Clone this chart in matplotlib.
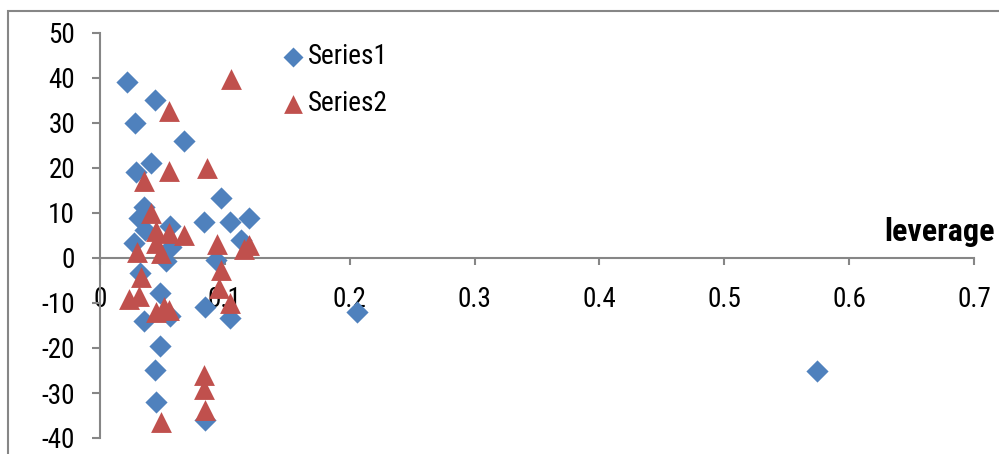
import os
import matplotlib
matplotlib.use("Agg")
import matplotlib.pyplot as plt
from matplotlib import font_manager
from matplotlib.font_manager import FontProperties
from matplotlib.patches import Rectangle

plt.rcParams["axes.unicode_minus"] = False

# pick a narrow sans if one is installed
files = {os.path.basename(f.fname).lower(): f.fname for f in font_manager.fontManager.ttflist}
choices = [
    ("liberationsansnarrow-regular.ttf", "liberationsansnarrow-bold.ttf", 20, 23),
    ("robotocondensed-regular.ttf", "robotocondensed-bold.ttf", 19.5, 23),
    ("dejavusanscondensed.ttf", "dejavusanscondensed-bold.ttf", 18, 21),
]
REG = BOLD = None
for r, b, fs, bfs in choices:
    if r in files:
        REG = FontProperties(fname=files[r], size=fs)
        BOLD = FontProperties(fname=files.get(b, files[r]), size=bfs, weight="bold")
        break
if REG is None:
    REG = FontProperties(family="Liberation Sans", size=17.5)
    BOLD = FontProperties(family="Liberation Sans", size=19, weight="bold")

# Series1 (blue diamonds)
s1_x = [0.022, 0.044, 0.028, 0.067, 0.041, 0.029, 0.035, 0.031, 0.036, 0.027,
        0.056, 0.057, 0.097, 0.083, 0.104, 0.119, 0.113, 0.093, 0.053, 0.032,
        0.048, 0.056, 0.035, 0.084, 0.104, 0.048, 0.044, 0.045, 0.084, 0.206,
        0.574]
s1_y = [39.0, 35.1, 30.1, 26.1, 21.2, 19.0, 11.4, 8.8, 6.2, 3.3,
        7.0, 2.5, 13.3, 8.1, 8.1, 8.8, 4.0, -0.4, -0.6, -3.4,
        -7.7, -12.8, -13.9, -10.8, -13.4, -19.6, -24.9, -31.9, -36.0, -12.0,
        -25.1]

# Series2 (red triangles)
s2_x = [0.105, 0.055, 0.035, 0.055, 0.086, 0.041, 0.045, 0.055, 0.067, 0.045,
        0.030, 0.049, 0.094, 0.115, 0.119, 0.033, 0.097, 0.095, 0.031, 0.023,
        0.051, 0.055, 0.045, 0.104, 0.083, 0.083, 0.084, 0.049]
s2_y = [39.8, 32.6, 17.0, 19.3, 20.0, 10.0, 5.9, 5.5, 5.1, 3.4,
        1.4, 1.0, 3.1, 2.1, 2.9, -4.3, -2.7, -6.7, -8.5, -9.1,
        -10.8, -11.5, -12.0, -10.1, -26.0, -29.0, -33.8, -36.4]

x_ticks = [0, 0.1, 0.2, 0.3, 0.4, 0.5, 0.6, 0.7]
x_labels = ["0", "0.1", "0.2", "0.3", "0.4", "0.5", "0.6", "0.7"]
y_ticks = [-40, -30, -20, -10, 0, 10, 20, 30, 40, 50]
y_labels = ["-40", "-30", "-20", "-10", "0", "10", "20", "30", "40", "50"]

W, H = 999, 454
fig = plt.figure(figsize=(W / 100, H / 100), dpi=100)
ax = fig.add_axes([100 / W, 1 - 438 / H, (974 - 100) / W, (438 - 33) / H])

grey = "#868686"
for s in ["top", "right"]:
    ax.spines[s].set_visible(False)
ax.spines["bottom"].set_position(("data", 0))
for s in ["left", "bottom"]:
    ax.spines[s].set_color(grey)
    ax.spines[s].set_linewidth(1.5)

ax.scatter(s1_x, s1_y, marker="D", s=11.3 ** 2, color="#4F81BD", label="Series1",
           linewidths=0, zorder=3, clip_on=False)
ax.scatter(s2_x, s2_y, marker="^", s=15 ** 2, color="#C0504D", label="Series2",
           linewidths=0, zorder=4, clip_on=False)

ax.set_xlim(0, 0.7)
ax.set_ylim(-40, 50)
ax.set_xticks(x_ticks)
ax.set_xticklabels(x_labels, fontproperties=REG)
ax.set_yticks(y_ticks)
ax.set_yticklabels(y_labels, fontproperties=REG)

ax.tick_params(axis="x", direction="out", length=5, width=1.5, color=grey,
               pad=15, labelcolor="black")
ax.tick_params(axis="y", direction="out", length=6, width=1.5, color=grey,
               pad=12, labelcolor="black")

fig.text(995 / W, 1 - 232 / H, "leverage", ha="right", va="center",
         fontproperties=BOLD)

ax.legend(loc="upper left", bbox_to_anchor=(285 / W, 1 - 43 / H),
          bbox_transform=fig.transFigure, frameon=False, prop=REG,
          handlelength=0.6, handletextpad=0.25, labelspacing=0.75,
          borderpad=0, borderaxespad=0, scatterpoints=1, markerscale=0.9)

fig.patches.append(Rectangle((8 / W, -0.1), 2, 1 - 11 / H + 0.1, transform=fig.transFigure,
                             fill=False, edgecolor=grey, linewidth=1.5))

fig.savefig("out.png", dpi=100)
